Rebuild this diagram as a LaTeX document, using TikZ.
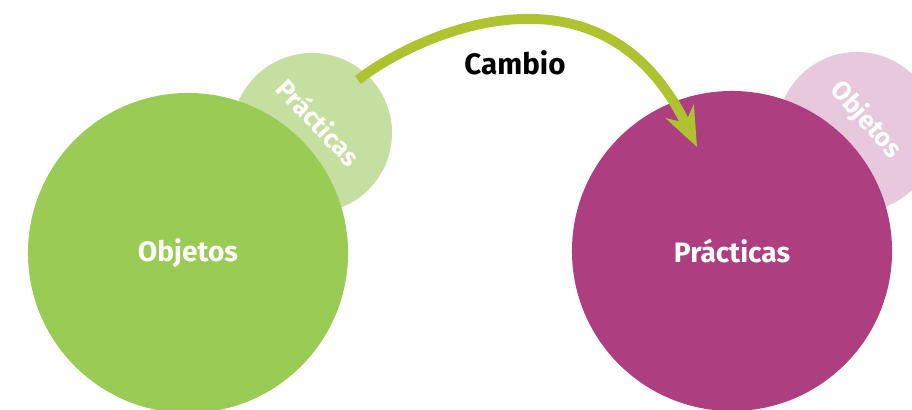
\documentclass[tikz,border=0pt]{standalone}
\usepackage{fontspec}
\setmainfont{Fira Sans}
\usetikzlibrary{arrows.meta}
\definecolor{verde}{HTML}{9ACB55}
\definecolor{verdeclaro}{HTML}{C5DFA0}
\definecolor{morado}{HTML}{AD3E80}
\definecolor{rosa}{HTML}{E8C8DC}
\definecolor{flecha}{HTML}{AFC22F}
\begin{document}
\begin{tikzpicture}[x=0.025cm,y=0.025cm,
  grande/.style={circle,minimum size=8cm,inner sep=0pt,text=white,font=\fontsize{20}{24}\selectfont\bfseries},
  chico/.style={circle,minimum size=4cm,inner sep=0pt},
  rotulo/.style={text=white,font=\fontsize{18.5}{22}\selectfont\bfseries},
  cambioflecha/.style={draw=flecha,line width=7pt,-{Stealth[length=28pt,width=22pt,inset=9pt]}}]
\useasboundingbox (0,0) rectangle (912,409);
\node[chico,fill=verdeclaro] (practicasbg) at (312,276) {};
\node[chico,fill=rosa] (objetosbg) at (857,277) {};
\node[grande,fill=verde] (objetos) at (188,156) {Objetos};
\node[grande,fill=morado] (practicas) at (732,158) {Prácticas};
\node[rotulo,rotate=-46] (practicasl) at (319,287) {Prácticas};
\node[rotulo,rotate=-48] (objetosl) at (866,289) {Objetos};
\coordinate (cambioini) at (358,329);
\coordinate (cambiofin) at (697,262);
\draw[cambioflecha] (cambioini) .. controls (412,372) and (600,462) .. (cambiofin);
\node[font=\fontsize{21}{25}\selectfont\bfseries] (cambio) at (515,346) {Cambio};
\end{tikzpicture}
\end{document}
